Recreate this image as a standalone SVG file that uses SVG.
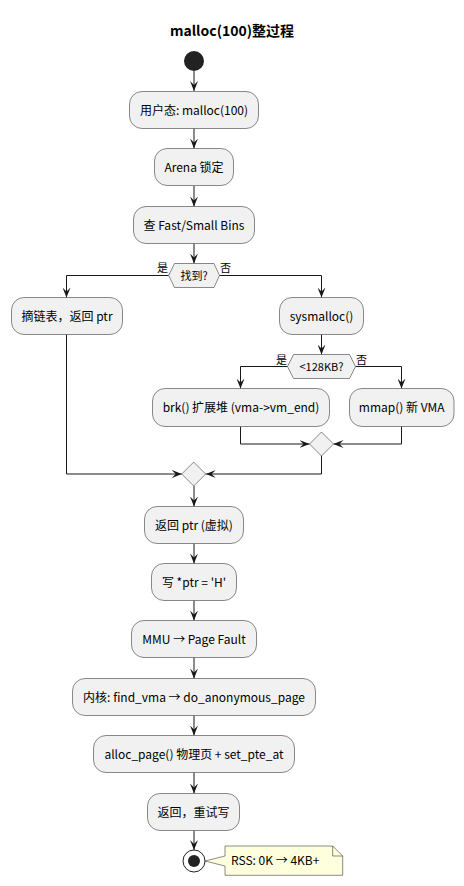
<svg xmlns="http://www.w3.org/2000/svg" width="464" height="886" viewBox="0 0 464 886">
<style>
.box{fill:#F1F1F1;stroke:#181818;stroke-width:0.5}
.dia{fill:#F1F1F1;stroke:#181818;stroke-width:0.5}
.t{font-family:"Noto Sans CJK SC","Noto Sans",sans-serif;font-size:12px;fill:#000;text-anchor:middle}
.s{font-family:"Noto Sans CJK SC","Noto Sans",sans-serif;font-size:11px;fill:#000}
.ln{fill:none;stroke:#181818;stroke-width:1;marker-end:url(#ah)}
</style>
<defs>
<marker id="ah" markerUnits="userSpaceOnUse" markerWidth="10" markerHeight="8" refX="10" refY="4" orient="auto">
<path d="M0,0 L10,4 L0,8 L4,4 Z" fill="#181818"/>
</marker>
</defs>
<rect width="464" height="886" fill="#FFFFFF"/>
<text x="232" y="36" style="font-family:'Noto Sans CJK SC','Noto Sans',sans-serif;font-size:14px;font-weight:bold;text-anchor:middle">malloc(100)整过程</text>

<g id="connectors">
<path class="ln" d="M194,71 L194,91"/>
<path class="ln" d="M194,128.5 L194,148.5"/>
<path class="ln" d="M194,186 L194,206.5"/>
<path class="ln" d="M194,243.5 L194,263.5"/>
<path class="ln" d="M168.7,275.5 L66.5,275.5 L66.5,297.5"/>
<path class="ln" d="M219.5,275.5 L321.5,275.5 L321.5,297.5"/>
<path class="ln" d="M321.5,334.5 L321.5,354.5"/>
<path class="ln" d="M287.5,366.5 L240.5,366.5 L240.5,388.5"/>
<path class="ln" d="M355.5,366.5 L401.5,366.5 L401.5,388.5"/>
<path class="ln" d="M240.5,426.5 L240.5,444 L309.5,444"/>
<path class="ln" d="M401.5,426.5 L401.5,444 L333.5,444"/>
<path class="ln" d="M321.5,456 L321.5,474 L205.7,474"/>
<path class="ln" d="M66.5,334.5 L66.5,474 L181.7,474"/>
<path class="ln" d="M194,486 L194,506.5"/>
<path class="ln" d="M194,543.5 L194,563.5"/>
<path class="ln" d="M194,600.5 L194,620.5"/>
<path class="ln" d="M194,657.5 L194,678.5"/>
<path class="ln" d="M194,715.5 L194,735.5"/>
<path class="ln" d="M194,772.5 L194,793.5"/>
<path class="ln" d="M194,830.5 L194,850"/>
</g>

<g id="start"><circle cx="194" cy="61" r="10" fill="#222222"/></g>

<g id="n1"><rect class="box" x="129.5" y="91.5" width="129" height="37" rx="12.5"/><text class="t" x="194" y="114.5">用户态: malloc(100)</text></g>
<g id="n2"><rect class="box" x="154.5" y="148.5" width="79" height="37" rx="12.5"/><text class="t" x="194" y="171.5">Arena 锁定</text></g>
<g id="n3"><rect class="box" x="133.5" y="206.5" width="121" height="37" rx="12.5"/><text class="t" x="194" y="229.5">查 Fast/Small Bins</text></g>

<g id="d1"><polygon class="dia" points="168.7,275.5 174.5,263.5 214,263.5 219.5,275.5 214,287.5 174.5,287.5"/><text class="s" x="194" y="280" text-anchor="middle">找到?</text><text class="s" x="168" y="272" text-anchor="end">是</text><text class="s" x="220" y="272">否</text></g>

<g id="n4"><rect class="box" x="11.5" y="297.5" width="111" height="37" rx="12.5"/><text class="t" x="67" y="320.5">摘链表，返回 ptr</text></g>
<g id="n5"><rect class="box" x="279.5" y="297.5" width="84" height="37" rx="12.5"/><text class="t" x="321.5" y="320.5">sysmalloc()</text></g>

<g id="d2"><polygon class="dia" points="287.5,366.5 293.5,354.5 349.5,354.5 355.5,366.5 349.5,378.5 293.5,378.5"/><text class="s" x="321.5" y="370.5" text-anchor="middle">&lt;128KB?</text><text class="s" x="287" y="364" text-anchor="end">是</text><text class="s" x="356" y="364">否</text></g>

<g id="n6"><rect class="box" x="152.5" y="388.5" width="177" height="38" rx="12.5"/><text class="t" x="241" y="412">brk() 扩展堆 (vma-&gt;vm_end)</text></g>
<g id="n7"><rect class="box" x="349.5" y="388.5" width="104.5" height="38" rx="12.5"/><text class="t" x="401.7" y="412">mmap() 新 VMA</text></g>

<g id="m1"><polygon class="dia" points="321.5,432 333.5,444 321.5,456 309.5,444"/></g>
<g id="m2"><polygon class="dia" points="193.7,462 205.7,474 193.7,486 181.7,474"/></g>

<g id="n8"><rect class="box" x="144.5" y="506.5" width="99" height="37" rx="12.5"/><text class="t" x="194" y="529.5">返回 ptr (虚拟)</text></g>
<g id="n9"><rect class="box" x="151.5" y="563.5" width="85" height="37" rx="12.5"/><text class="t" x="194" y="586.5">写 *ptr = 'H'</text></g>
<g id="n10"><rect class="box" x="131.5" y="620.5" width="125" height="37" rx="12.5"/><text class="t" x="194" y="643.5">MMU → Page Fault</text></g>
<g id="n11"><rect class="box" x="72.5" y="678.5" width="243" height="37" rx="12.5"/><text class="t" x="194" y="701.5">内核: find_vma → do_anonymous_page</text></g>
<g id="n12"><rect class="box" x="93.5" y="735.5" width="201" height="37" rx="12.5"/><text class="t" x="194" y="758.5">alloc_page() 物理页 + set_pte_at</text></g>
<g id="n13"><rect class="box" x="147.5" y="793.5" width="92" height="37" rx="12.5"/><text class="t" x="193.5" y="816.5">返回，重试写</text></g>

<g id="end"><circle cx="194" cy="861" r="11" fill="#FFFFFF" stroke="#222222" stroke-width="1"/><circle cx="194" cy="861" r="6" fill="#222222"/></g>

<g id="note"><path d="M225,846 L332.7,846 L342.7,856 L342.7,875.3 L225,875.3 L225,866 L205,861 L225,856 Z" fill="#FEFFDD" stroke="#181818" stroke-width="0.5"/><path d="M332.7,846 L332.7,856 L342.7,856" fill="none" stroke="#181818" stroke-width="0.5"/><text class="s" x="231" y="865" style="font-size:12px">RSS: 0K → 4KB+</text></g>
</svg>
